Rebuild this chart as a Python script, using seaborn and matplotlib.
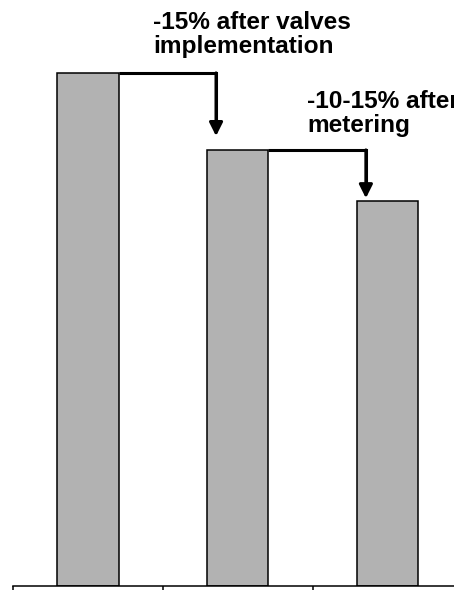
import numpy as np
import matplotlib
matplotlib.use('Agg')
import matplotlib.pyplot as plt
import seaborn as sns

# ==========================================
# DATA
# ==========================================
stages = ['Baseline', 'After valves', 'After metering']
loss_index = [100, 85, 75]

# arrow end levels (just above the next bar)
arrow_tips = [87.7, 75.6]
notes = ['-15% after valves\nimplementation', '-10-15% after\nmetering']
note_levels = [103.8, 88.5]

BAR_WIDTH = 0.41
BAR_COLOR = '#b2b2b2'

# ==========================================
# PLOT
# ==========================================
sns.set_style('white')
plt.rcParams['font.family'] = ['Liberation Sans', 'DejaVu Sans']

fig = plt.figure(figsize=(4.54, 5.90), dpi=100)
ax = fig.add_axes([13 / 454, 1 - 586.3 / 590, 441 / 454, 586.3 / 590])

sns.barplot(x=stages, y=loss_index, color=BAR_COLOR, edgecolor='black',
            linewidth=1.1, width=BAR_WIDTH, saturation=1, ax=ax)

ax.set_xlim(-0.497, 2.443)
ax.set_ylim(0, 114.2)

# step arrows between bars
for i, tip in enumerate(arrow_tips):
    x_start = i + BAR_WIDTH / 2
    x_arrow = i + 0.855
    ax.plot([x_start, x_arrow, x_arrow], [loss_index[i], loss_index[i], tip + 2],
            color='black', lw=2.2, solid_joinstyle='miter', solid_capstyle='butt',
            clip_on=False)
    ax.annotate('', xy=(x_arrow, tip), xytext=(x_arrow, loss_index[i]),
                arrowprops=dict(arrowstyle='-|>,head_length=0.8,head_width=0.4',
                                color='black', lw=2.2, shrinkA=0, shrinkB=0,
                                mutation_scale=10))

# notes (the second one runs past the right edge, as in the source chart)
note_x = [0.437, 1.463]
for txt, xx, yy in zip(notes, note_x, note_levels):
    ax.text(xx, yy, txt, fontsize=17.6, fontweight='bold', color='black',
            ha='left', va='baseline', linespacing=1.08, clip_on=False)

# axis look
sns.despine(ax=ax, left=True)
ax.spines['bottom'].set_linewidth(1.1)
ax.spines['bottom'].set_color('black')
ax.set_yticks([])
ax.set_xticks(np.arange(len(stages)) - 0.5, labels=[''] * len(stages))
ax.tick_params(axis='x', direction='out', length=3, width=1.1, color='black', bottom=True)
ax.set_xlabel('')
ax.set_ylabel('')

fig.savefig('out.png', dpi=100)
